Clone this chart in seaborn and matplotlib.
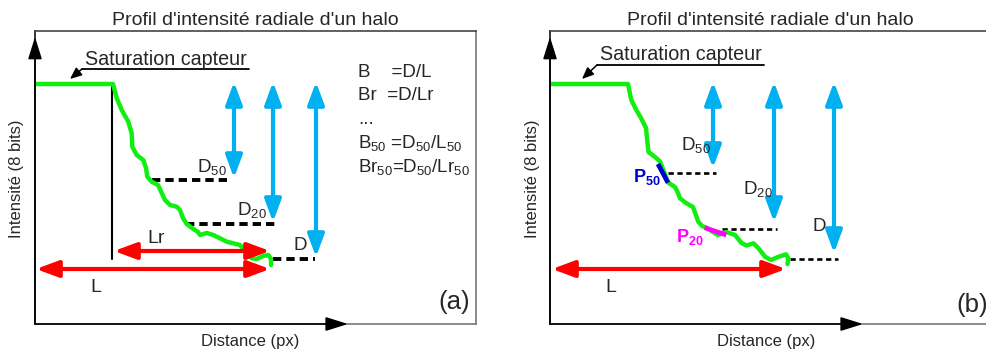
import matplotlib.pyplot as plt
import seaborn as sns

sns.set_style("white")
plt.rcParams["font.family"] = ["Liberation Sans", "DejaVu Sans"]
plt.rcParams["mathtext.fontset"] = "custom"
plt.rcParams["mathtext.rm"] = "Liberation Sans"
plt.rcParams["mathtext.default"] = "regular"
plt.rcParams["lines.scale_dashes"] = False

# --- data (schematic units: distance 0-441, intensity 0-293) ---
sat_level = 240

# panel (a) profile
dist_a = [0, 78, 81.7, 86.7, 93.3, 96.7, 97.3, 101.7, 108.3, 111, 112.3, 116.7, 123, 126.7,
          130, 135, 141.7, 145, 148, 151.7, 157, 163, 165, 171.7, 178.3, 185, 191.7, 198.3,
          205, 210, 213.3, 216.7, 221.7, 228.3, 233.3, 236, 236]
int_a = [240, 240, 226, 214, 202.3, 190.7, 177.3, 169, 164, 156, 147.3, 142.3, 139, 131,
         124, 119, 117.3, 114, 106, 100, 96, 92, 89, 91, 89, 85.7, 82.3, 80.7,
         79, 73, 69, 65.7, 65, 68, 69, 65, 59]
knee_a = 77
level_y_a = [144, 100, 65]          # D50, D20, D
level_x0_a = [117, 151, 238]
level_x1_a = [197, 240, 280]
arrow_x_a = [199, 238, 281]
arrow_end_a = [146, 102, 67]
lr_a = (79, 235, 73)                # x0, x1, y
l_a = (1, 235, 55)

# panel (b) profile
dist_b = [0, 78, 81.3, 86.3, 91, 96, 97.5, 98.5, 105, 110, 114.7, 118, 125, 128, 130, 136,
          143, 148.3, 152, 157, 163, 168, 176.5, 185, 191.5, 196.5, 203.5, 208.5, 215, 221,
          228, 236, 238.3, 237.5]
int_b = [240, 240, 224, 214, 206, 196, 181, 172, 167, 162.5, 150.7, 141.5, 137, 131, 125.7,
         121, 117, 102.3, 98, 96, 92, 89, 92, 89, 81, 78.5, 80.7, 75.7, 67.3, 64,
         67, 69.7, 65.7, 60]
level_y_b = [151, 95, 65]
level_x0_b = [118, 172, 240]
level_x1_b = [166, 227, 288]
arrow_x_b = [163, 224, 284]
arrow_end_b = [156, 102, 71]
l_b = (2, 236, 55)
p50_x, p50_y = [108, 118], [160, 141.3]
p20_x, p20_y = [154.7, 176.3], [96.3, 89]

GREEN = "#11ee11"
CYAN = "#00b0f0"
RED = "#ff0000"


def darrow(ax, x0, y0, x1, y1, color):
    ax.annotate("", xy=(x1, y1), xytext=(x0, y0),
                arrowprops=dict(arrowstyle="<|-|>,head_length=1.35,head_width=0.5",
                                color=color, lw=3, shrinkA=0, shrinkB=0))


def frame(ax, x_tip, title, xlab_x, ylab_x):
    ax.set_xlim(0, 441)
    ax.set_ylim(0, 293)
    ax.set_xticks([])
    ax.set_yticks([])
    ax.spines["top"].set_color("#444444")
    for s in ["right", "bottom"]:
        ax.spines[s].set_color("#777777")
    for s in ["top", "right", "bottom"]:
        ax.spines[s].set_linewidth(1.2)
    ax.spines["left"].set_color("black")
    ax.spines["left"].set_linewidth(1.1)
    head = "-|>,head_length=1.37,head_width=0.43"
    ax.annotate("", xy=(x_tip, 0), xytext=(0, 0), annotation_clip=False,
                arrowprops=dict(arrowstyle=head, color="black", lw=1.2, shrinkA=0, shrinkB=0))
    ax.annotate("", xy=(0, 287), xytext=(0, 0), annotation_clip=False,
                arrowprops=dict(arrowstyle=head, color="black", lw=1.1, shrinkA=0, shrinkB=0))
    ax.set_title(title, fontsize=14, pad=4)
    ax.set_xlabel("Distance (px)", fontsize=12)
    ax.set_ylabel("Intensité (8 bits)", fontsize=12)
    ax.xaxis.set_label_coords(xlab_x, -0.035)
    ax.yaxis.set_label_coords(ylab_x, 0.495)


def saturation(ax, base_y, line_y, tip):
    ax.text(50, base_y, "Saturation capteur", fontsize=14.2, va="baseline")
    ax.plot([47, 214], [line_y, line_y], color="black", lw=1.3)
    ax.annotate("", xy=tip, xytext=(47, line_y),
                arrowprops=dict(arrowstyle="-|>,head_length=0.7,head_width=0.3",
                                color="black", lw=1.1, shrinkA=0, shrinkB=0))


fig = plt.figure(figsize=(9.86, 3.54), dpi=100)
ax_a = fig.add_axes([35 / 986, 30 / 354, 441 / 986, 293 / 354])
ax_b = fig.add_axes([550 / 986, 30 / 354, 441 / 986, 293 / 354])

title = "Profil d'intensité radiale d'un halo"

# ---------------- panel (a) ----------------
ax = ax_a
frame(ax, 313, title, 0.4875, -0.024)
ax.plot([knee_a, knee_a], [65, sat_level], color="black", lw=1.5)
for y, x0, x1 in zip(level_y_a, level_x0_a, level_x1_a):
    ax.plot([x0, x1], [y, y], color="black", lw=2.8, linestyle=(0, (6, 3.6)))
for x, y1 in zip(arrow_x_a, arrow_end_a):
    darrow(ax, x, 242, x, y1, CYAN)
darrow(ax, lr_a[0], lr_a[2], lr_a[1], lr_a[2], RED)
darrow(ax, l_a[0], l_a[2], l_a[1], l_a[2], RED)
sns.lineplot(x=dist_a, y=int_a, ax=ax, sort=False, estimator=None, color=GREEN, lw=3.2,
             solid_joinstyle="round", solid_capstyle="round")
saturation(ax, 259, 255, (35, 245))
ax.text(162, 152, "D$_{50}$", fontsize=13.5, va="baseline")
ax.text(202, 109, "D$_{20}$", fontsize=13.5, va="baseline")
ax.text(259, 74, "D", fontsize=13.5, va="baseline")
ax.text(112, 81, "Lr", fontsize=14, va="baseline")
ax.text(55, 32, "L", fontsize=14, va="baseline")
formulas = ["B    =D/L", "Br  =D/Lr", "...", "B$_{50}$ =D$_{50}$/L$_{50}$",
            "Br$_{50}$=D$_{50}$/Lr$_{50}$"]
for txt, y in zip(formulas, [247, 224, 200, 176, 152]):
    ax.text(323, y, txt, fontsize=13.5, va="baseline")
ax.text(435, 22, "(a)", fontsize=18.5, ha="right", va="center")

# ---------------- panel (b) ----------------
ax = ax_b
frame(ax, 313, title, 0.49, -0.0227)
for y, x0, x1 in zip(level_y_b, level_x0_b, level_x1_b):
    ax.plot([x0, x1], [y, y], color="black", lw=1.9, linestyle=(0, (3.8, 2.6)))
for x, y1 in zip(arrow_x_b, arrow_end_b):
    darrow(ax, x, 242, x, y1, CYAN)
darrow(ax, l_b[0], l_b[2], l_b[1], l_b[2], RED)
sns.lineplot(x=dist_b, y=int_b, ax=ax, sort=False, estimator=None, color=GREEN, lw=3.2,
             solid_joinstyle="round", solid_capstyle="round")
ax.plot(p50_x, p50_y, color="#0000cc", lw=3.4, solid_capstyle="butt")
ax.plot(p20_x, p20_y, color="#ff00ff", lw=3.4, solid_capstyle="butt")
saturation(ax, 264, 259, (32, 245))
ax.text(131, 174, "D$_{50}$", fontsize=13.5, va="baseline")
ax.text(193, 130, "D$_{20}$", fontsize=13.5, va="baseline")
ax.text(263, 93, "D", fontsize=13.5, va="baseline")
ax.text(83, 142, "P$_{50}$", fontsize=13, va="baseline", color="#0000cc",
        fontweight="bold")
ax.text(126, 82, "P$_{20}$", fontsize=13, va="baseline", color="#ff00ff",
        fontweight="bold")
ax.text(55, 32, "L", fontsize=14, va="baseline")
ax.text(406, 19, "(b)", fontsize=18.5, va="center")

fig.savefig("out.png", dpi=100)
